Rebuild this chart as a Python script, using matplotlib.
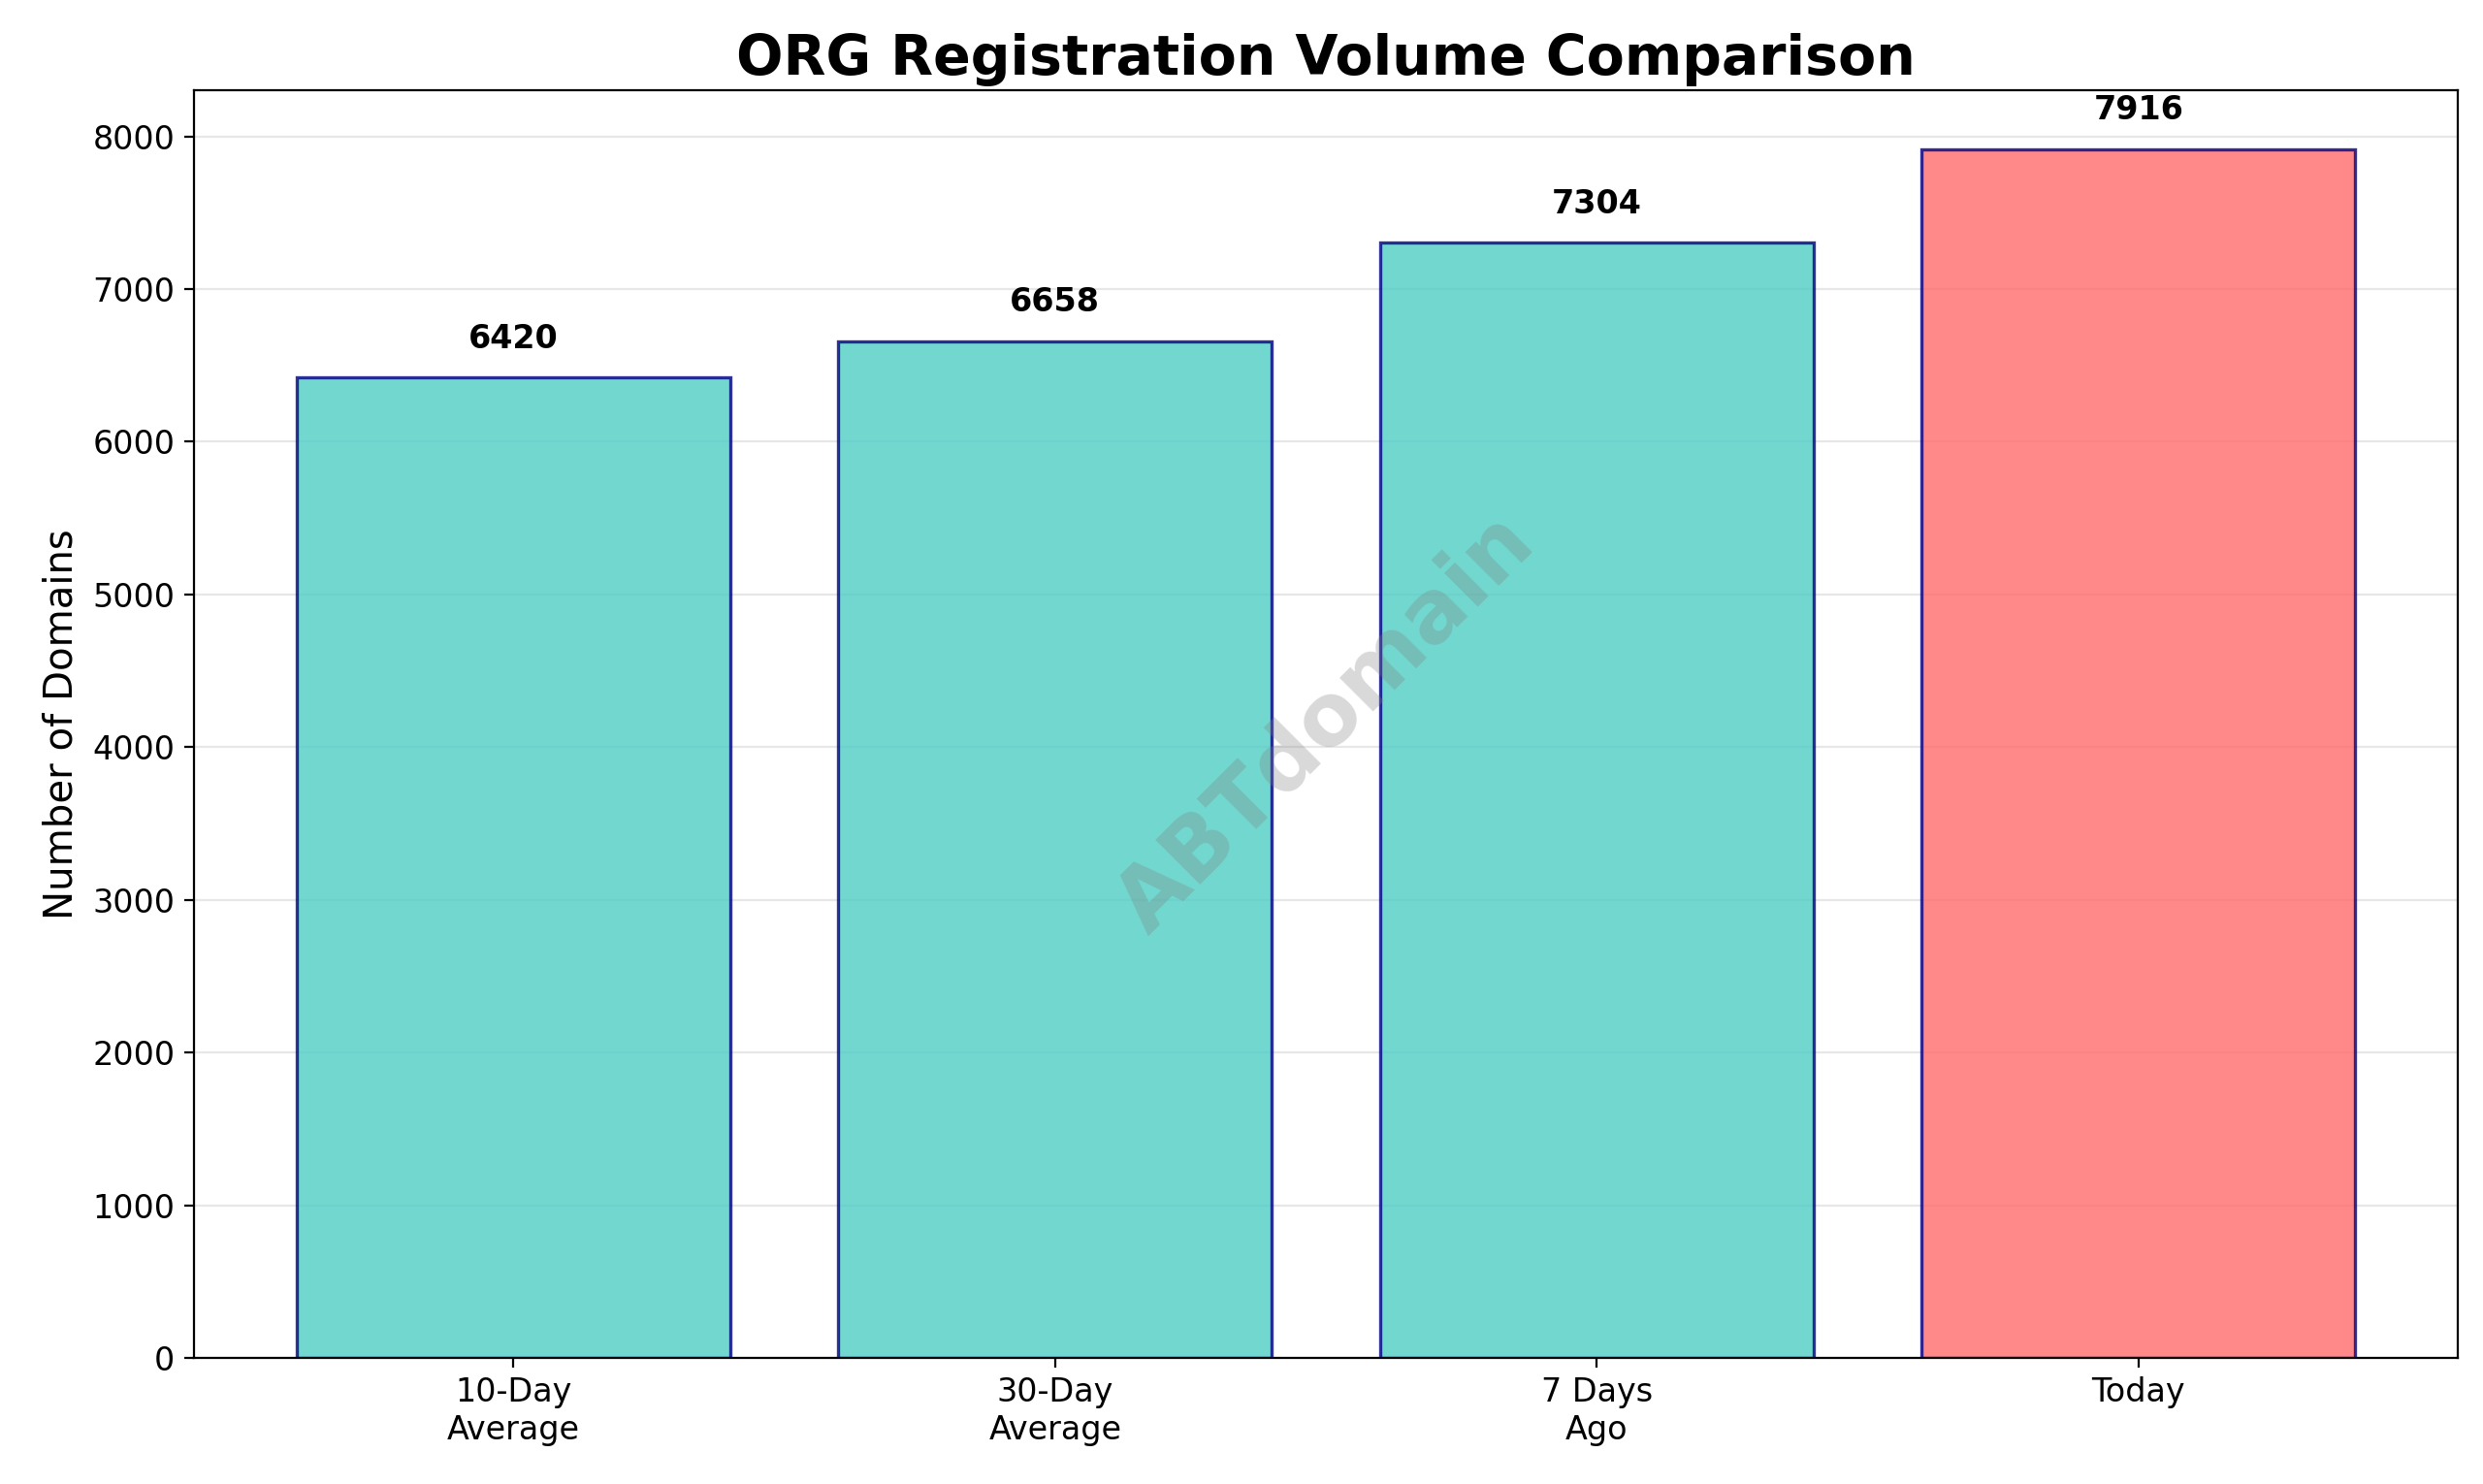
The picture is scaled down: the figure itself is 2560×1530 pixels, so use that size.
import matplotlib
matplotlib.use("Agg")
import matplotlib.pyplot as plt

categories = ["10-Day\nAverage", "30-Day\nAverage", "7 Days\nAgo", "Today"]
values = [6420, 6658, 7304, 7916]
colors = ["#4ECDC4", "#4ECDC4", "#4ECDC4", "#FF6B6B"]

fig, ax = plt.subplots(figsize=(12.8, 7.65), dpi=200)
bars = ax.bar(categories, values, color=colors, alpha=0.8,
              edgecolor="navy", linewidth=1.2, width=0.8)
for b, v in zip(bars, values):
    ax.text(b.get_x() + b.get_width() / 2, v + 150, str(v),
            ha="center", va="bottom", fontsize=12, fontweight="bold")

ax.set_title("ORG Registration Volume Comparison", fontsize=20.5, fontweight="bold")
ax.set_ylabel("Number of Domains", fontsize=14.5)
ax.tick_params(labelsize=12)
ax.set_ylim(0, 8300)
ax.yaxis.grid(True, alpha=0.3)
ax.set_axisbelow(True)
ax.text(0.5, 0.5, "ABTdomain", transform=ax.transAxes, fontsize=32,
        color="gray", alpha=0.3, ha="center", va="center", rotation=45,
        fontweight="bold")

fig.subplots_adjust(left=0.078, right=0.99, bottom=0.085, top=0.939)
fig.savefig("out.png", dpi=200)
